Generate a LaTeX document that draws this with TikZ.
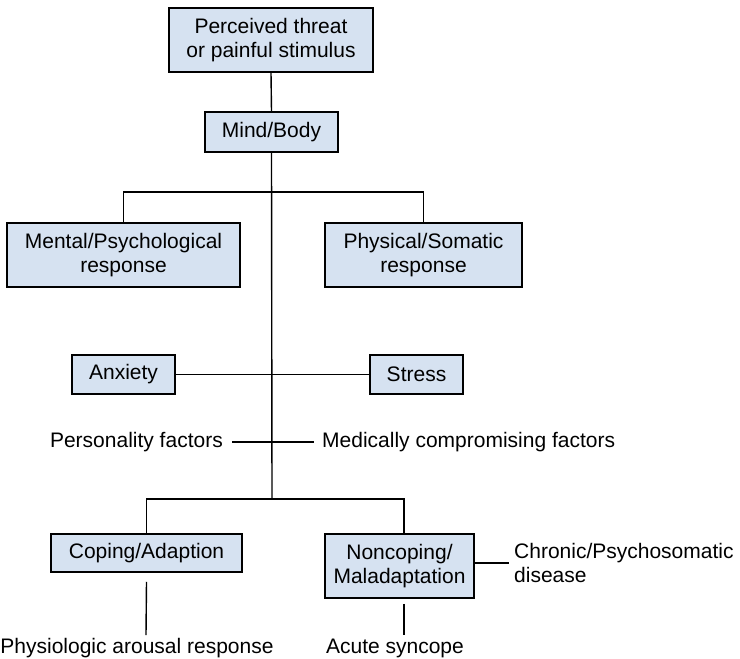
\documentclass[tikz,border=0pt]{standalone}
\usepackage{fontspec}
\setmainfont{Liberation Sans}
\definecolor{boxfill}{HTML}{D6E2F1}
\begin{document}
\begin{tikzpicture}[x=1pt,y=-1pt,
  every node/.style={font=\fontsize{21}{23.5}\selectfont, inner sep=0pt},
  bx/.style={draw=black, line width=1.5pt, fill=boxfill, align=center},
  conn/.style={line width=1.4pt, black}]
\useasboundingbox (0,0) rectangle (740,659);
% boxes
\node[bx, minimum width=204, minimum height=64] (top) at (271,40) {Perceived threat\\or painful stimulus};
\node[bx, minimum width=133, minimum height=40] (mb) at (271.5,132) {Mind/Body};
\node[bx, minimum width=233, minimum height=64] (ment) at (123.5,255) {Mental/Psychological\\response};
\node[bx, minimum width=197, minimum height=64] (phys) at (423.5,255) {Physical/Somatic\\response};
\node[bx, minimum width=103, minimum height=39] (anx) at (123.5,374.5) {Anxiety};
\node[bx, minimum width=93, minimum height=39] (str) at (416.5,374.5) {Stress};
\node[bx, minimum width=191, minimum height=38] (cop) at (146.5,553) {Coping/Adaption};
\node[bx, minimum width=149, minimum height=64] (nonc) at (399.5,566) {Noncoping/\\Maladaptation};
% plain texts
\node[anchor=east] (pers) at (223,442) {Personality factors};
\node[anchor=west] (med) at (322,442) {Medically compromising factors};
\node (par) at (137,648) {Physiologic arousal response};
\node (acs) at (395,648) {Acute syncope};
\node[anchor=west, align=left] (chr) at (514,563) {Chronic/Psychosomatic\\disease};
% junctions
\coordinate (j1) at (272,192);
\coordinate (j2) at (272,499);
\coordinate (pe) at (146,635);
\coordinate (ae) at (404,635);
% connectors
\draw[conn] (top.south) -- (mb.north);
\draw[conn] (mb.south) -- (j2);
\draw[conn] (ment.north) |- (j1) -| (phys.north);
\draw[conn] (anx.east) -- (str.west);
\draw[conn, shorten <=9pt, shorten >=8pt] (pers.east) -- (med.west);
\draw[conn] (cop.north) |- (j2) -| ([xshift=4.5pt]nonc.north);
\draw[conn] ([yshift=-9pt]cop.south) -- (pe);
\draw[conn] ([xshift=4.5pt,yshift=-5pt]nonc.south) -- (ae);
\draw[conn] ([yshift=3pt]nonc.east) -- ([yshift=3pt]nonc.east -| chr.west) [shorten >=5pt];
\end{tikzpicture}
\end{document}
